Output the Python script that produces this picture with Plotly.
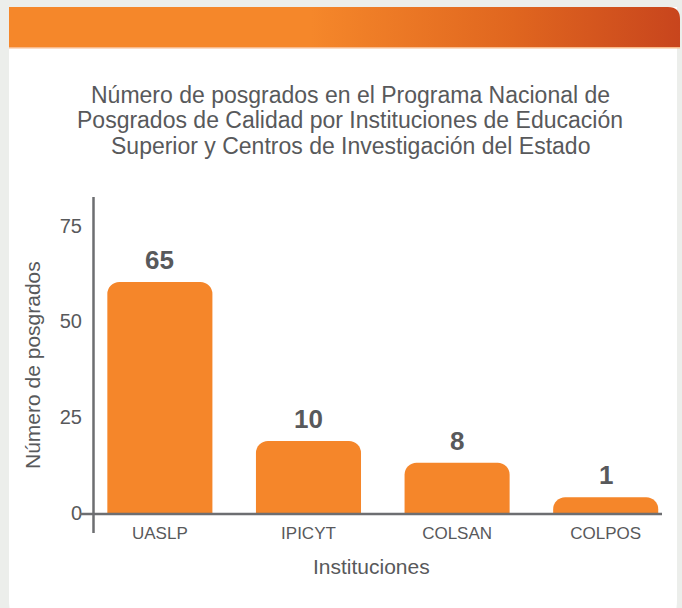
import base64
import plotly.graph_objects as go

# ---- data ----
categories = ["UASLP", "IPICYT", "COLSAN", "COLPOS"]
bar_heights = [60.3, 18.8, 13.1, 4.1]      # bar heights as drawn in the picture
label_values = [65, 10, 8, 1]              # value labels printed above bars
y_tick_vals = [0, 25, 50, 75]
title_lines = ["Número de posgrados en el Programa Nacional de",
               "Posgrados de Calidad por Instituciones de Educación",
               "Superior y Centros de Investigación del Estado"]
x_title = "Instituciones"
y_title = "Número de posgrados"

# ---- layout helpers ----
W, H = 682, 608
def px(x): return x / W
def py(y): return (H - y) / H

TEXT = "#58595B"
AXIS = "#6D6E71"
BAR = "#F5862A"
FONT = "Liberation Sans, Arial, sans-serif"

svg = f"""<svg xmlns='http://www.w3.org/2000/svg' width='{W}' height='{H}' viewBox='0 0 {W} {H}' preserveAspectRatio='none'>
<defs><linearGradient id='g' x1='0' y1='0' x2='1' y2='0'>
<stop offset='0' stop-color='#F5872A'/><stop offset='0.45' stop-color='#F5872A'/>
<stop offset='0.75' stop-color='#E0661F'/><stop offset='1' stop-color='#C8451D'/></linearGradient></defs>
<path d='M9,7 L677,7 L677,600 Q677,630 650,630 L35,630 Q9,630 9,600 Z' fill='#FFFFFF'/>
<path d='M9,7 L668,7 Q680,7 680,19 L680,48 L9,48 Z' fill='url(#g)'/>
<rect x='9' y='47' width='671' height='1.5' fill='#F8B98A'/>
</svg>"""
src = "data:image/svg+xml;base64," + base64.b64encode(svg.encode()).decode()

fig = go.Figure()
fig.add_trace(go.Bar(
    x=categories, y=bar_heights,
    marker=dict(color=BAR, cornerradius=12, line=dict(width=0)),
    hoverinfo="skip",
))

annotations = []
for c, h, v in zip(categories, bar_heights, label_values):
    annotations.append(dict(x=c, y=h, xref="x", yref="y", text=f"<b>{v}</b>",
                            showarrow=False, yanchor="bottom", yshift=5,
                            font=dict(size=26, color=TEXT, family=FONT)))
for i, line in enumerate(title_lines):
    annotations.append(dict(x=px(350), y=py(95 + 25.5 * i), xref="paper", yref="paper",
                            text=line, showarrow=False, xanchor="center", yanchor="middle",
                            font=dict(size=23, color=TEXT, family=FONT)))
annotations += [
    dict(x=px(32), y=py(365), xref="paper", yref="paper", text=y_title,
         showarrow=False, textangle=-90, xanchor="center", yanchor="middle",
         font=dict(size=21, color=TEXT, family=FONT)),
    dict(x=px(371), y=py(566), xref="paper", yref="paper", text=x_title,
         showarrow=False, xanchor="center", yanchor="middle",
         font=dict(size=21, color=TEXT, family=FONT)),
]

shapes = [
    dict(type="line", xref="paper", yref="paper", x0=px(80), x1=px(662),
         y0=py(514), y1=py(514), line=dict(color=AXIS, width=2.5)),
    dict(type="line", xref="paper", yref="paper", x0=px(93.5), x1=px(93.5),
         y0=py(197), y1=py(533), line=dict(color=AXIS, width=2.5)),
]

fig.update_layout(
    width=W, height=H, autosize=False,
    margin=dict(l=0, r=0, t=0, b=0, pad=0),
    paper_bgcolor="#ECEEEB", plot_bgcolor="rgba(0,0,0,0)",
    showlegend=False, bargap=0.293,
    font=dict(family=FONT, color=TEXT),
    images=[dict(source=src, xref="paper", yref="paper", x=0, y=1,
                 sizex=1, sizey=1, sizing="stretch", layer="below",
                 xanchor="left", yanchor="top")],
    annotations=annotations, shapes=shapes,
    xaxis=dict(domain=[px(93), px(680)], range=[-0.45, 3.5], automargin=False,
               showline=False, showgrid=False, zeroline=False, ticks="",
               tickfont=dict(size=17, color=TEXT, family=FONT),
               ticklabelstandoff=8),
    yaxis=dict(domain=[py(513), py(197)], range=[0, 82.5], automargin=False,
               tickvals=y_tick_vals, showline=False, showgrid=False,
               zeroline=False, ticks="",
               tickfont=dict(size=20, color=TEXT, family=FONT),
               ticklabelstandoff=10),
)

post = ("var d=document.documentElement,b=document.body;"
        "d.style.margin='0';d.style.padding='0';d.style.overflow='hidden';"
        "b.style.margin='0';b.style.padding='0';b.style.overflow='hidden';")
fig.write_html("out.html", config={"displayModeBar": False}, post_script=post)
